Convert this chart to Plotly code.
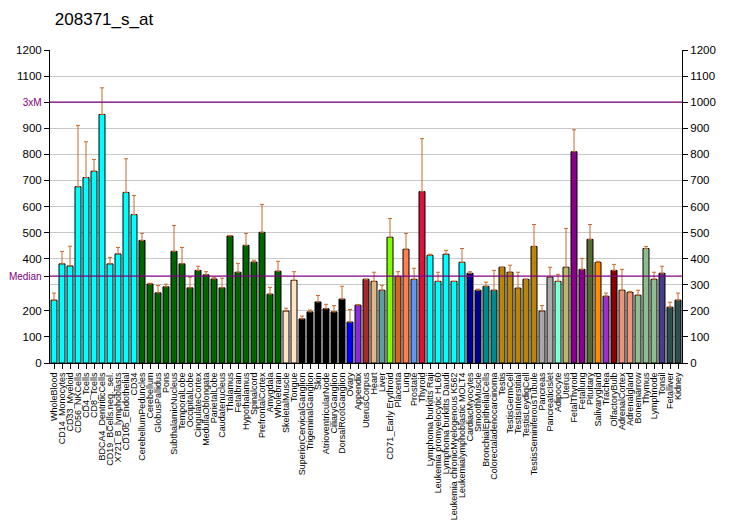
import plotly.graph_objects as go

title = "208371_s_at"
categories = ["WholeBlood","CD14_Monocytes","CD33_Myeloid","CD56_NKCells","CD4_Tcells","CD8_Tcells",
    "BDCA4_DentriticCells","CD19_BCells.neg._sel.","X721_B_lymphoblasts","CD105_Endothelial","CD34",
    "CerebellumPeduncles","Cerebellum","GlobusPallidus","Pons","SubthalamicNucleus","TemporalLobe",
    "OccipitalLobe","CingulateCortex","MedullaOblongata","ParietalLobe","Caudatenucleus","Thalamus",
    "Fetalbrain","Hypothalamus","Spinalcord","PrefrontalCortex","Amygdala","Wholebrain","SkeletalMuscle",
    "Tongue","SuperiorCervicalGanglion","TrigeminalGanglion","Skin","AtrioventricularNode","CiliaryGanglion",
    "DorsalRootGanglion","Ovary","Appendix","UterusCorpus","Heart","Liver","CD71_Early Erythroid","Placenta",
    "Lung","Prostate","Thyroid","Lymphoma burkitts Raji","Leukemia promyelocytic HL60","Lymphoma burkitts Daudi",
    "Leukemia chronicMyelogenous K562","Leukemialymphoblastic MOLT4","CardiacMyocytes","SmoothMuscle",
    "BronchialEpithelialCells","Colorectaladenocarcinoma","Testis","TestisGermCell","TestisInterstitial",
    "TestisLeydigCell","TestisSeminiferousTubule","Pancreas","PancreaticIslet","Adipocyte","Uterus",
    "FetalThyroid","Fetallung","Pituitary","Salivarygland","Trachea","OlfactoryBulb","AdrenalCortex",
    "Adrenalgland","Bonemarrow","Thymus","Lymphnode","Tonsil","Fetalliver","Kidney"]

values = [241,380,372,676,711,735,953,380,418,654,569,
    470,303,269,292,428,380,288,355,338,322,288,487,348,451,387,501,264,352,
    199,317,169,196,234,208,196,245,157,222,321,313,279,482,332,436,321,657,
    413,313,417,313,386,344,279,294,279,367,348,287,321,447,199,329,313,367,
    810,359,474,386,256,355,279,271,260,439,321,344,214,241]

upper = [268,428,448,911,848,780,1055,405,443,783,642,
    497,306,297,302,527,443,329,371,350,329,325,489,382,497,394,608,290,390,
    210,350,180,203,259,225,220,294,205,224,321,348,298,554,350,497,363,860,
    417,348,432,313,439,350,283,310,355,367,375,348,321,531,220,367,340,516,
    894,401,531,390,268,378,359,274,279,447,348,371,233,268]

colors = (["#00FFFF"]*11 + ["#006400"]*18 + ["#FFE4C4"]*2 + ["#000000"]*6 +
    ["#0000FF","#8A2BE2","#A52A2A","#DEB887","#5F9EA0","#7FFF00","#D2691E","#FF7F50","#6495ED","#DC143C"] +
    ["#00FFFF"]*5 + ["#00008B"]*2 + ["#008B8B"]*2 + ["#B8860B"]*5 + ["#A9A9A9"]*2 +
    ["#7FFFD4","#BDB76B","#8B008B","#8B008B","#556B2F","#FF8C00","#9932CC","#8B0000"] +
    ["#E9967A"]*2 + ["#8FBC8F"]*3 + ["#483D8B"] + ["#2F4F4F"]*2)

median = 333
three_m = 1000

err_plus = [u - v for u, v in zip(upper, values)]

fig = go.Figure()
fig.add_trace(go.Bar(
    x=categories, y=values,
    marker=dict(color=colors, line=dict(color="black", width=1)),
    error_y=dict(type="data", symmetric=False, array=err_plus, arrayminus=[0]*len(values),
                 color="#C8692D", thickness=1, width=2),
    showlegend=False, hoverinfo="x+y",
))
fig.add_trace(go.Scatter(x=[categories[0]], y=[0], yaxis="y2", mode="markers",
                         marker=dict(opacity=0), showlegend=False, hoverinfo="skip"))

left_vals = [0,100,200,median,400,500,600,700,800,900,three_m,1100,1200]
left_text = ["0","100","200","<span style='color:#800080;font-size:10px'>Median</span>","400","500","600","700","800","900",
             "<span style='color:#800080;font-size:10px'>3xM</span>","1100","1200"]

fig.add_shape(type="line", xref="paper", x0=0, x1=1, yref="y", y0=median, y1=median,
              line=dict(color="#800080", width=1.3))
fig.add_shape(type="line", xref="paper", x0=0, x1=1, yref="y", y0=three_m, y1=three_m,
              line=dict(color="#800080", width=1.3))

font = "Liberation Sans, Arial, sans-serif"
fig.update_layout(
    width=732, height=530,
    margin=dict(l=42, r=58, t=42, b=175, autoexpand=False),
    paper_bgcolor="white", plot_bgcolor="white",
    title=dict(text=title, x=0.064, xanchor="left", y=0.99, yanchor="top",
               font=dict(family=font, size=17, color="black")),
    bargap=0.25,
    font=dict(family=font, color="black"),
    xaxis=dict(tickangle=-90, tickfont=dict(size=9), ticks="outside", ticklen=5, tickcolor="black",
               tickmode="array", tickvals=categories, ticktext=categories, automargin=False,
               showline=True, linecolor="black", linewidth=1, range=[-0.5, len(categories)-0.5],
               showgrid=False),
    yaxis=dict(range=[0,1200], tickvals=left_vals, ticktext=left_text, tickfont=dict(size=11.5),
               ticks="outside", ticklen=5, tickcolor="black", showline=True, linecolor="black",
               showgrid=False, zeroline=False, automargin=False),
    yaxis2=dict(range=[0,1200], overlaying="y", side="right", dtick=100, tickfont=dict(size=11.5),
                ticks="outside", ticklen=5, tickcolor="black", showline=True, linecolor="black",
                showgrid=True, gridcolor="#C8C8C8", gridwidth=1, zeroline=False, layer="below traces",
                automargin=False),
)
fig.write_html("out.html")
